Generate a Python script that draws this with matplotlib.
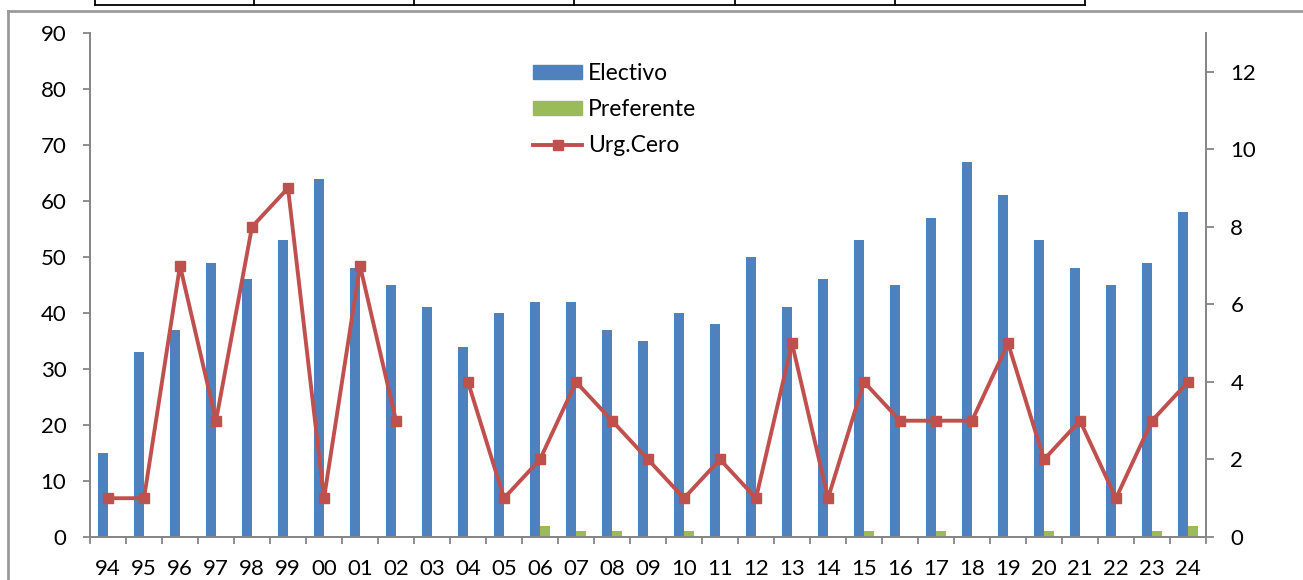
import numpy as np
import matplotlib
matplotlib.use('Agg')
import matplotlib.pyplot as plt
from matplotlib.lines import Line2D

plt.rcParams['font.family'] = ['Lato', 'DejaVu Sans']

years = ['94', '95', '96', '97', '98', '99', '00', '01', '02', '03', '04', '05', '06', '07', '08',
         '09', '10', '11', '12', '13', '14', '15', '16', '17', '18', '19', '20', '21', '22', '23', '24']
electivo = [15, 33, 37, 49, 46, 53, 64, 48, 45, 41, 34, 40, 42, 42, 37,
            35, 40, 38, 50, 41, 46, 53, 45, 57, 67, 61, 53, 48, 45, 49, 58]
preferente = [0, 0, 0, 0, 0, 0, 0, 0, 0, 0, 0, 0, 2, 1, 1,
              0, 1, 0, 0, 0, 0, 1, 0, 1, 0, 0, 1, 0, 0, 1, 2]
urg_cero = [1, 1, 7, 3, 8, 9, 1, 7, 3, np.nan, 4, 1, 2, 4, 3,
            2, 1, 2, 1, 5, 1, 4, 3, 3, 3, 5, 2, 3, 1, 3, 4]

W, H = 1303, 580
fig = plt.figure(figsize=(W / 100, H / 100), dpi=100)
ax = fig.add_axes([90 / W, 1 - 537 / H, (1206 - 90) / W, (537 - 33) / H])
ax2 = ax.twinx()

blue = '#4F81BD'
green = '#9BBB59'
red = '#C0504D'
grey = '#868686'

x = np.arange(len(years))
bw = 0.28
ax.bar(x - bw / 2, electivo, bw, color=blue, label='Electivo', zorder=2)
ax.bar(x + bw / 2, preferente, bw, color=green, label='Preferente', zorder=2)
ax2.plot(x, urg_cero, color=red, lw=2.8, marker='s', ms=7.5, label='Urg.Cero')

ax.set_xlim(-0.5, len(years) - 0.5)
ax.set_ylim(0, 90)
ax2.set_ylim(0, 13)
ax.set_yticks(range(0, 91, 10))
ax2.set_yticks(range(0, 13, 2))

ax.set_xticks(np.arange(-0.5, len(years), 1))
ax.set_xticklabels([])
ax.set_xticks(x, minor=True)
ax.set_xticklabels(years, minor=True)
ax.tick_params(axis='x', which='major', length=5, color=grey, width=1.3)
ax.tick_params(axis='x', which='minor', length=0, pad=16, labelsize=16)
ax.tick_params(axis='y', length=5, color=grey, width=1.3, pad=12, labelsize=16)
ax2.tick_params(axis='y', length=5.5, color=grey, width=1.3, pad=12, labelsize=16)

for a in (ax, ax2):
    a.spines['top'].set_visible(False)
    for s in ('left', 'right', 'bottom'):
        a.spines[s].set_color(grey)
        a.spines[s].set_linewidth(1.3)

handles = [plt.Rectangle((0, 0), 1, 1, color=blue),
           plt.Rectangle((0, 0), 1, 1, color=green),
           Line2D([], [], color=red, lw=2.8, marker='s', ms=7.5)]
leg = ax.legend(handles, ['Electivo', 'Preferente', 'Urg.Cero'],
                loc='upper left', bbox_to_anchor=(443 / (1206 - 90), 1 - 30 / 504),
                frameon=False, fontsize=16.5, handlelength=2.14, handleheight=0.55,
                labelspacing=0.66, handletextpad=0.26, borderpad=0, borderaxespad=0)

# outer chart frame
fig.add_artist(Line2D([8 / W, 8 / W], [0, 1 - 11 / H], color='#9a9a9a', lw=2, transform=fig.transFigure))
fig.add_artist(Line2D([8 / W, 1], [1 - 11 / H, 1 - 11 / H], color='#9a9a9a', lw=2, transform=fig.transFigure))

# table fragment above the chart
ty = 1 - 5 / H
fig.add_artist(Line2D([95 / W, 1085 / W], [ty, ty], color='black', lw=1.3, transform=fig.transFigure))
for vx in [95, 254, 414, 574, 735, 895, 1085]:
    fig.add_artist(Line2D([vx / W, vx / W], [ty, 1], color='black', lw=1.3, transform=fig.transFigure))

fig.savefig('out.png', dpi=100)
